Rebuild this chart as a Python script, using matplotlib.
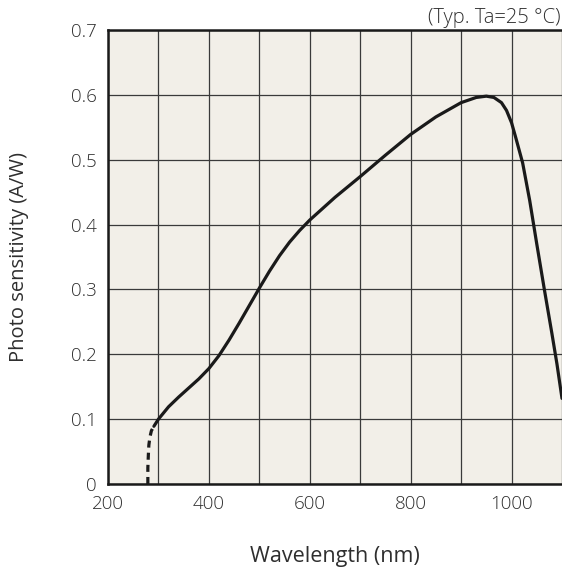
import numpy as np
import matplotlib
matplotlib.use('Agg')
import matplotlib.pyplot as plt

plt.rcParams['font.family'] = ['Open Sans', 'DejaVu Sans']
plt.rcParams['font.weight'] = 'light'

# dashed part (low wavelength edge)
wl_dash = [279, 279, 280, 281, 283, 286, 291]
s_dash = [0.0, 0.025, 0.045, 0.060, 0.072, 0.082, 0.089]

# solid part
wl = [291, 300, 320, 340, 360, 380, 400, 420, 440, 460, 480, 500, 520, 540,
      560, 580, 600, 650, 700, 750, 800, 850, 900, 930, 950, 965, 980, 990,
      1000, 1008, 1015, 1022, 1036, 1050, 1065, 1080, 1090, 1100]
sens = [0.089, 0.100, 0.119, 0.134, 0.148, 0.162, 0.178, 0.198, 0.222, 0.248,
        0.275, 0.302, 0.328, 0.352, 0.373, 0.391, 0.407, 0.442, 0.474, 0.507,
        0.539, 0.566, 0.588, 0.596, 0.598, 0.596, 0.588, 0.576, 0.557, 0.535,
        0.515, 0.495, 0.437, 0.370, 0.300, 0.232, 0.185, 0.132]

xticks = [200, 400, 600, 800, 1000]
yticks = [0, 0.1, 0.2, 0.3, 0.4, 0.5, 0.6, 0.7]
yticklabels = ['0', '0.1', '0.2', '0.3', '0.4', '0.5', '0.6', '0.7']

fig = plt.figure(figsize=(5.62, 5.75), dpi=100)
ax = fig.add_axes([108/562, 91/575, 1 - 108/562, 454/575])
ax.set_facecolor('#f2efe8')

ax.set_xlim(200, 1100)
ax.set_ylim(0, 0.7)
ax.set_xticks(np.arange(200, 1101, 100), minor=True)
ax.set_xticks(xticks)
ax.set_yticks(yticks)
ax.set_yticklabels(yticklabels)
ax.grid(True, which='both', axis='x', color='#3a3a3a', lw=0.9)
ax.grid(True, axis='y', color='#3a3a3a', lw=0.9)
ax.tick_params(which='both', length=0, labelsize=13.5, colors='#2e2e2e', pad=8)

ax.plot(wl_dash, s_dash, color='#1a1a1a', lw=2.3, ls=(0, (2.2, 1.6)))
ax.plot(wl, sens, color='#1a1a1a', lw=2.3, solid_capstyle='round')

for side in ['left', 'top', 'bottom']:
    ax.spines[side].set_linewidth(1.8)
    ax.spines[side].set_color('#1a1a1a')
ax.spines['right'].set_visible(False)

ax.set_xlabel('Wavelength (nm)', fontsize=15.5, color='#2e2e2e', labelpad=24)
ax.set_ylabel('Photo sensitivity (A/W)', fontsize=14.5, color='#2e2e2e', labelpad=30)
fig.text(0.998, 0.951, '(Typ. Ta=25 °C)', ha='right', va='bottom', fontsize=14.5, color='#2e2e2e')

plt.savefig('out.png', dpi=100)
